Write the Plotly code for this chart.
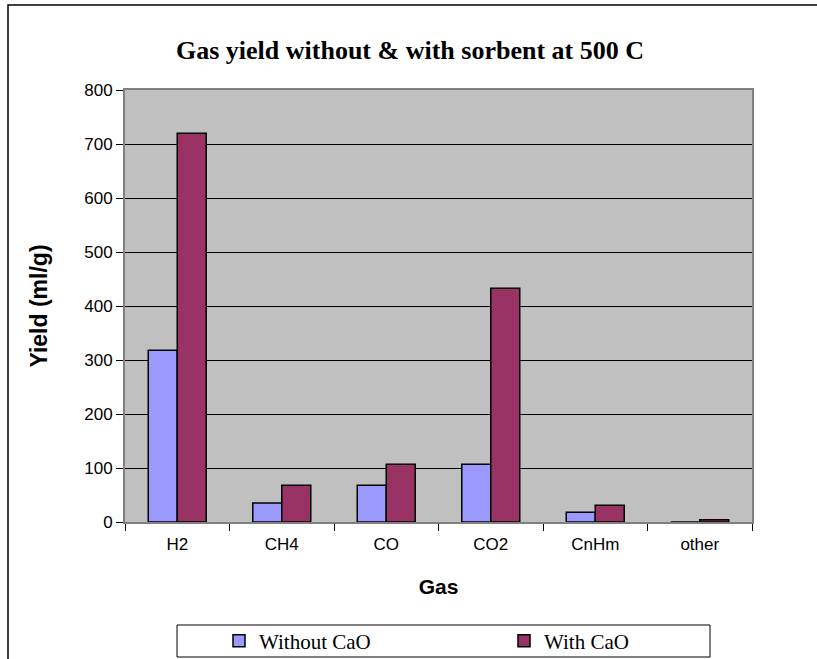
"""Gas yield without and with CaO sorbent at 500 C, grouped bar chart."""

import plotly.graph_objects as go

# Data
gases = ["H2", "CH4", "CO", "CO2", "CnHm", "other"]
without_cao = [318, 35, 68, 107, 18, 0]
with_cao = [720, 68, 107, 433, 31, 4]

W, H = 817, 659
L, R, T, B = 125, 65, 90, 137
plot_w = W - L - R
plot_h = H - T - B


def px_x(x):
    """Pixel x -> paper x."""
    return (x - L) / plot_w


def px_y(y):
    """Pixel y (from top) -> paper y."""
    return (H - B - y) / plot_h


legend_font = dict(family="Liberation Serif, Times New Roman, serif", size=21, color="black")

fig = go.Figure()

fig.add_trace(
    go.Bar(
        name="Without CaO",
        x=gases,
        y=without_cao,
        marker=dict(color="#9999FF", line=dict(color="black", width=1.5)),
        legend="legend",
    )
)
fig.add_trace(
    go.Bar(
        name="With CaO",
        x=gases,
        y=with_cao,
        marker=dict(color="#993366", line=dict(color="black", width=1.5)),
        legend="legend2",
    )
)

fig.update_layout(
    width=W,
    height=H,
    margin=dict(l=L, r=R, t=T, b=B, autoexpand=False),
    plot_bgcolor="#C0C0C0",
    paper_bgcolor="white",
    barmode="group",
    bargap=0.445,
    bargroupgap=0,
    font=dict(family="Liberation Sans, Arial, sans-serif", size=17, color="black"),
    title=dict(
        text="<b>Gas yield without &amp; with sorbent at 500 C</b>",
        font=dict(family="Liberation Serif, Times New Roman, serif", size=26, color="black"),
        x=410 / W,
        xanchor="center",
        y=1 - 50 / H,
        yanchor="middle",
    ),
    xaxis=dict(
        type="category",
        showgrid=False,
        ticks="outside",
        tickson="boundaries",
        ticklen=7,
        tickcolor="black",
        ticklabelstandoff=6,
        showline=True,
        linecolor="#808080",
        linewidth=2,
        mirror=True,
        title=dict(
            text="<b>Gas</b>",
            font=dict(family="Liberation Sans, Arial, sans-serif", size=21),
            standoff=26,
        ),
    ),
    yaxis=dict(
        range=[0, 800],
        dtick=100,
        showgrid=True,
        gridcolor="black",
        gridwidth=1,
        zeroline=False,
        ticks="outside",
        ticklen=7,
        tickcolor="black",
        showline=True,
        linecolor="#808080",
        linewidth=2,
        mirror=True,
        title=dict(
            text="<b>Yield (ml/g)</b>",
            font=dict(family="Liberation Sans, Arial, sans-serif", size=23),
            standoff=30,
        ),
    ),
    legend=dict(
        x=px_x(219),
        xanchor="left",
        y=px_y(641),
        yanchor="middle",
        bgcolor="rgba(0,0,0,0)",
        borderwidth=0,
        font=legend_font,
    ),
    legend2=dict(
        x=px_x(504),
        xanchor="left",
        y=px_y(641),
        yanchor="middle",
        bgcolor="rgba(0,0,0,0)",
        borderwidth=0,
        font=legend_font,
    ),
    showlegend=True,
)

# Legend box and outer chart-area border
fig.add_shape(
    type="rect",
    xref="paper", yref="paper",
    x0=px_x(177), x1=px_x(710), y0=px_y(625), y1=px_y(657),
    line=dict(color="black", width=1),
    layer="below",
)
fig.add_shape(
    type="rect",
    xref="paper", yref="paper",
    x0=px_x(8), x1=px_x(840), y0=px_y(5), y1=px_y(700),
    line=dict(color="black", width=1.5),
    layer="below",
)

# Drop the default page margin so the figure sits at the window's corner
fig.write_html(
    "out.html",
    config={"displayModeBar": False},
    post_script="document.body.style.margin='0';document.body.style.overflow='hidden';",
)
